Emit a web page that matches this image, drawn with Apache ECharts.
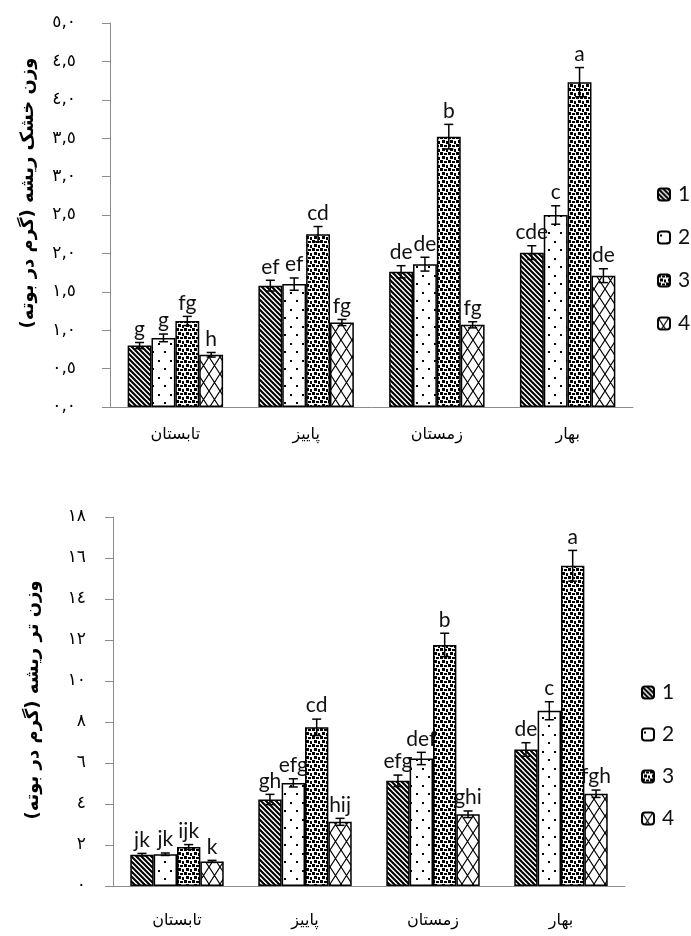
<!DOCTYPE html>
<html>
<head>
<meta charset="utf-8">
<script src="https://cdn.jsdelivr.net/npm/echarts@6/dist/echarts.min.js"></script>
<style>
  html, body { margin: 0; padding: 0; background: #fff; }
  #chart { width: 691px; height: 936px; }
</style>
</head>
<body>
<div id="chart"></div>
<script>
// Seasons along the x axis, treatments 1-4 as grouped bars
const seasons = ['تابستان', 'پاییز', 'زمستان', 'بهار'];
const treatments = ['1', '2', '3', '4'];

// Root dry weight (g per plant)
const dry1 = [0.80, 1.58, 1.76, 2.01];
const dry2 = [0.90, 1.60, 1.86, 2.50];
const dry3 = [1.12, 2.25, 3.52, 4.23];
const dry4 = [0.68, 1.10, 1.07, 1.71];
const dryErr1 = [0.04, 0.07, 0.08, 0.09];
const dryErr2 = [0.05, 0.08, 0.09, 0.12];
const dryErr3 = [0.06, 0.10, 0.16, 0.19];
const dryErr4 = [0.03, 0.04, 0.04, 0.09];
const dryLetters1 = ['g', 'ef', 'de', 'cde'];
const dryLetters2 = ['g', 'ef', 'de', 'c'];
const dryLetters3 = ['fg', 'cd', 'b', 'a'];
const dryLetters4 = ['h', 'fg', 'fg', 'de'];
const dryTicks = ['٠,٠', '٠,٥', '١,٠', '١,٥', '٢,٠', '٢,٥', '٣,٠', '٣,٥', '٤,٠', '٤,٥', '٥,٠'];

// Root fresh weight (g per plant)
const fresh1 = [1.53, 4.22, 5.13, 6.66];
const fresh2 = [1.55, 5.03, 6.22, 8.55];
const fresh3 = [1.90, 7.74, 11.76, 15.62];
const fresh4 = [1.20, 3.13, 3.50, 4.50];
const freshErr1 = [0.06, 0.25, 0.28, 0.33];
const freshErr2 = [0.06, 0.20, 0.30, 0.44];
const freshErr3 = [0.12, 0.40, 0.57, 0.75];
const freshErr4 = [0.05, 0.17, 0.16, 0.18];
const freshLetters1 = ['jk', 'gh', 'efg', 'de'];
const freshLetters2 = ['jk', 'efg', 'def', 'c'];
const freshLetters3 = ['ijk', 'cd', 'b', 'a'];
const freshLetters4 = ['k', 'hij', 'ghi', 'fgh'];
const freshTicks = ['٠', '٢', '٤', '٦', '٨', '١٠', '١٢', '١٤', '١٦', '١٨'];

const dryTitle = 'وزن خشک ریشه (گرم در بوته)';
const freshTitle = 'وزن تر ریشه (گرم در بوته)';

// ---- fill patterns for the four treatments ----
function tile(w, h, draw) {
  const c = document.createElement('canvas');
  c.width = w; c.height = h;
  const ctx = c.getContext('2d');
  ctx.fillStyle = '#fff';
  ctx.fillRect(0, 0, w, h);
  ctx.fillStyle = '#000';
  ctx.strokeStyle = '#000';
  draw(ctx, w, h);
  return { image: c, repeat: 'repeat' };
}
const patterns = [
  // dense back-diagonal stripes
  tile(5, 5, (ctx, w, h) => {
    ctx.lineWidth = 2.1;
    ctx.beginPath();
    for (const k of [-w, 0, w]) {
      ctx.moveTo(k - 1, -1);
      ctx.lineTo(k + w + 1, h + 1);
    }
    ctx.stroke();
  }),
  // sparse dots
  tile(12, 17, (ctx) => {
    ctx.fillRect(2, 3, 2, 2);
    ctx.fillRect(8, 11, 2, 2);
  }),
  // confetti squares
  tile(8, 8, (ctx) => {
    ctx.fillRect(0, 0, 3, 3);
    ctx.fillRect(4, 1, 3, 2);
    ctx.fillRect(2, 4, 3, 3);
    ctx.fillRect(6, 5, 2, 3);
  }),
  // diagonal cross-hatch
  tile(11, 17, (ctx, w, h) => {
    ctx.lineWidth = 1.2;
    ctx.beginPath();
    ctx.moveTo(0, 0); ctx.lineTo(w, h);
    ctx.moveTo(w, 0); ctx.lineTo(0, h);
    ctx.stroke();
  })
];

const CAT_GAP = 0.27;
const axisGray = '#8c8c8c';
const arabicFont = 'DejaVu Sans';

function barSeries(name, values, k, gridIdx) {
  return {
    name: name,
    type: 'bar',
    xAxisIndex: gridIdx,
    yAxisIndex: gridIdx,
    data: values,
    barGap: '0%',
    barCategoryGap: (CAT_GAP * 100) + '%',
    itemStyle: { color: patterns[k], borderColor: '#000', borderWidth: 1.5 },
    emphasis: { disabled: true },
    z: 2
  };
}

// error bars plus significance letters, drawn over each bar
function errorSeries(id, valueSets, errSets, letterSets, gridIdx) {
  const data = [];
  valueSets.forEach((vals, k) => {
    vals.forEach((v, i) => data.push([i, v, errSets[k][i], k, letterSets[k][i]]));
  });
  return {
    name: id,
    type: 'custom',
    xAxisIndex: gridIdx,
    yAxisIndex: gridIdx,
    z: 5,
    silent: true,
    data: data,
    renderItem: function (params, api) {
      const cat = api.value(0), v = api.value(1), e = api.value(2), k = api.value(3);
      const letter = data[params.dataIndex][4];
      const center = api.coord([cat, v]);
      const band = api.size([1, 0])[0];
      const bw = band * (1 - CAT_GAP) / 4;
      const x = center[0] + (k - 1.5) * bw;
      const yHi = api.coord([cat, v + e])[1];
      const yLo = api.coord([cat, v - e])[1];
      const cap = 4.5;
      const ls = { stroke: '#000', lineWidth: 1.5 };
      return {
        type: 'group',
        children: [
          { type: 'line', shape: { x1: x, y1: yHi, x2: x, y2: yLo }, style: ls },
          { type: 'line', shape: { x1: x - cap, y1: yHi, x2: x + cap, y2: yHi }, style: ls },
          { type: 'line', shape: { x1: x - cap, y1: yLo, x2: x + cap, y2: yLo }, style: ls },
          {
            type: 'text',
            style: {
              text: letter, x: x, y: yHi - 3,
              textAlign: 'center', textVerticalAlign: 'bottom',
              font: '21px Lato', fill: '#111'
            }
          }
        ]
      };
    }
  };
}

function xAxisCfg(gridIdx, margin) {
  return {
    gridIndex: gridIdx,
    type: 'category',
    data: seasons,
    axisLine: { lineStyle: { color: axisGray, width: 1 } },
    axisTick: { length: 7, lineStyle: { color: axisGray } },
    axisLabel: { margin: margin, color: '#000', fontFamily: arabicFont, fontSize: 16 },
    splitLine: { show: false }
  };
}
function yAxisCfg(gridIdx, max, interval, ticks, margin) {
  return {
    gridIndex: gridIdx,
    type: 'value',
    min: 0, max: max, interval: interval,
    axisLine: { show: true, lineStyle: { color: axisGray, width: 1 } },
    axisTick: { show: true, length: 8, lineStyle: { color: axisGray } },
    axisLabel: {
      margin: margin, color: '#000', fontFamily: arabicFont, fontSize: 17,
      formatter: (val, idx) => ticks[idx]
    },
    splitLine: { show: false }
  };
}

const legendText = { fontFamily: 'Lato', fontSize: 21, color: '#111', padding: [0, 0, 0, 3] };

const chart = echarts.init(document.getElementById('chart'), null, { renderer: 'canvas' });
chart.setOption({
  backgroundColor: '#fff',
  animation: false,
  grid: [
    { left: 110, right: 58, top: 23, bottom: 529 },
    { left: 113, right: 66, top: 517, bottom: 50 }
  ],
  xAxis: [xAxisCfg(0, 20), xAxisCfg(1, 27)],
  yAxis: [yAxisCfg(0, 5, 0.5, dryTicks, 34), yAxisCfg(1, 18, 2, freshTicks, 27)],
  legend: [
    {
      data: treatments, orient: 'vertical', left: 657, top: 184, padding: 0,
      itemWidth: 12, itemHeight: 12, itemGap: 22,
      textStyle: legendText,
      selectedMode: false
    },
    {
      data: treatments, orient: 'vertical', left: 641, top: 682, padding: 0,
      itemWidth: 12, itemHeight: 12, itemGap: 21,
      textStyle: legendText,
      selectedMode: false
    }
  ],
  graphic: [
    {
      type: 'text', x: 28, y: 193, rotation: Math.PI / 2,
      style: { text: dryTitle, font: 'bold 18px "DejaVu Sans"', fill: '#000', textAlign: 'center', textVerticalAlign: 'middle' }
    },
    {
      type: 'text', x: 33, y: 700, rotation: Math.PI / 2,
      style: { text: freshTitle, font: 'bold 18px "DejaVu Sans"', fill: '#000', textAlign: 'center', textVerticalAlign: 'middle' }
    }
  ],
  series: [
    barSeries('1', dry1, 0, 0),
    barSeries('2', dry2, 1, 0),
    barSeries('3', dry3, 2, 0),
    barSeries('4', dry4, 3, 0),
    errorSeries('dry-error', [dry1, dry2, dry3, dry4], [dryErr1, dryErr2, dryErr3, dryErr4],
      [dryLetters1, dryLetters2, dryLetters3, dryLetters4], 0),
    barSeries('1', fresh1, 0, 1),
    barSeries('2', fresh2, 1, 1),
    barSeries('3', fresh3, 2, 1),
    barSeries('4', fresh4, 3, 1),
    errorSeries('fresh-error', [fresh1, fresh2, fresh3, fresh4], [freshErr1, freshErr2, freshErr3, freshErr4],
      [freshLetters1, freshLetters2, freshLetters3, freshLetters4], 1)
  ]
});
</script>
</body>
</html>
